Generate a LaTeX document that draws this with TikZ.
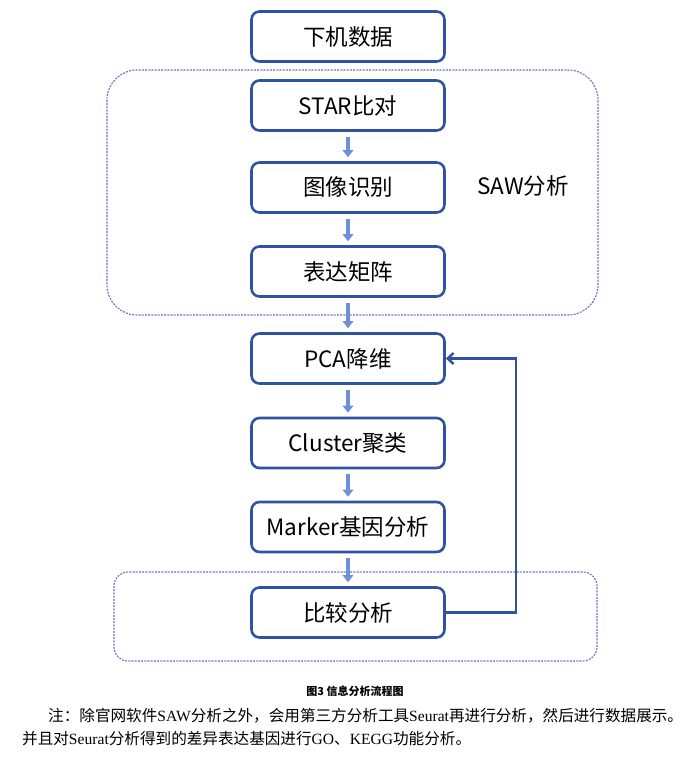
\documentclass[tikz,border=0pt]{standalone}
\usepackage{fontspec}
\setmainfont{Noto Sans CJK SC}
\newfontfamily\latinserif{Liberation Serif}
\usetikzlibrary{arrows.meta}
\definecolor{boxblue}{RGB}{47,82,162}
\definecolor{arrowblue}{RGB}{110,144,220}
\definecolor{dashblue}{RGB}{96,120,188}
\newcommand\lat[1]{{\latinserif #1}}

\begin{document}
\begin{tikzpicture}[x=1pt, y=-1pt, every node/.style={font=\fontsize{22.5}{26}\selectfont}]
    \tikzset{
        flowbox/.style={draw=boxblue, line width=2.6pt, rounded corners=8pt, fill=white,
            minimum width=193pt, minimum height=50pt, inner sep=0pt},
        flowarrow/.style={draw=arrowblue, line width=3.4pt, -{Triangle[width=10.5pt,length=7pt]},
            shorten <=5pt, shorten >=4pt},
        groupbox/.style={draw=dashblue, line width=1.1pt, dash pattern=on 2pt off 1.2pt},
        backarrow/.style={draw=boxblue, line width=2.4pt, -{Straight Barb[length=6pt,width=11pt]}},
        notetext/.style={anchor=west, inner sep=0pt, font=\fontsize{15.6}{18}\selectfont}
    }
    \useasboundingbox (0,0) rectangle (692,758);

    % dashed groups
    \draw[groupbox, rounded corners=30pt] (107,70) rectangle (598,315);
    \draw[groupbox, rounded corners=14pt] (114,572) rectangle (597,661);
    \node (saw) at (523,186) {SAW分析};

    % flow boxes
    \node[flowbox] (raw)     at (348,36.5)  {下机数据};
    \node[flowbox] (star)    at (348,105.5) {STAR比对};
    \node[flowbox] (image)   at (348,187.5) {图像识别};
    \node[flowbox] (matrix)  at (348,271.5) {表达矩阵};
    \node[flowbox] (pca)     at (348,358.5) {PCA降维};
    \node[flowbox] (cluster) at (348,443)   {Cluster聚类};
    \node[flowbox] (marker)  at (348,527)   {Marker基因分析};
    \node[flowbox] (cmp)     at (348,612.5) {比较分析};

    \draw[flowarrow] (star) -- (image);
    \draw[flowarrow] (image) -- (matrix);
    \draw[flowarrow] (matrix) -- (pca);
    \draw[flowarrow] (pca) -- (cluster);
    \draw[flowarrow] (cluster) -- (marker);
    \draw[flowarrow] (marker) -- (cmp);

    \draw[backarrow] (cmp.east) -- ++(70,0) |- (pca.east);

    % caption and note
    \node[font=\fontsize{11}{13}\selectfont\bfseries] (caption) at (355,691) {图3\ 信息分析流程图};
    \node[notetext] (note1) at (48,716) {注：除官网软件\lat{SAW}分析之外，会用第三方分析工具\lat{Seurat}再进行分析，然后进行数据展示。};
    \node[notetext] (note2) at (22,739) {并且对\lat{Seurat}分析得到的差异表达基因进行\lat{GO}、\lat{KEGG}功能分析。};
\end{tikzpicture}
\end{document}
